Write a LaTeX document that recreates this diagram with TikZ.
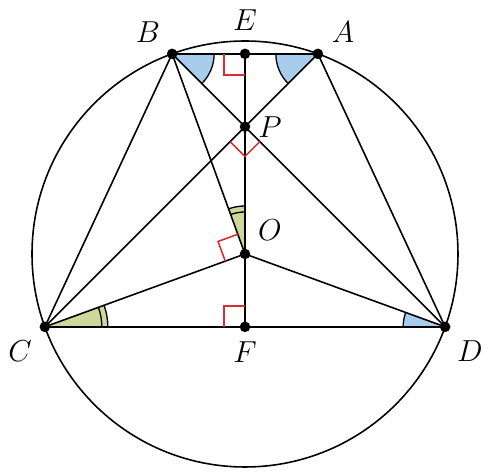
\documentclass[tikz,border=0pt]{standalone}
\usetikzlibrary{calc}
\definecolor{angblue}{RGB}{168,205,236}
\definecolor{anggreen}{RGB}{206,216,155}
\definecolor{rmark}{RGB}{218,45,45}
\tikzset{
  geo/.style={line width=0.9pt, black},
  rmk/.style={line width=0.9pt, rmark},
  arcline/.style={line width=0.75pt, black},
  dotpt/.style={circle, fill=black, inner sep=0pt, minimum size=6pt},
  lbl/.style={font=\LARGE, inner sep=0pt}
}
\begin{document}
\begin{tikzpicture}[x=0.02cm,y=0.02cm]
\useasboundingbox (-245,254) rectangle (243,-218);
\def\R{213}
\coordinate (O) at (0,0);
\coordinate (B) at (110:\R);
\coordinate (A) at (70:\R);
\coordinate (C) at (200:\R);
\coordinate (D) at (-20:\R);
\coordinate (E) at (0,200.16);
\coordinate (P) at (0,127.31);
\coordinate (F) at (0,-72.85);
% angle fills
\fill[angblue] (B) -- ++(0:42) arc[start angle=0,end angle=-45,radius=42] -- cycle;
\fill[angblue] (A) -- ++(180:42) arc[start angle=180,end angle=225,radius=42] -- cycle;
\fill[angblue] (D) -- ++(180:42) arc[start angle=180,end angle=160,radius=42] -- cycle;
\fill[anggreen] (C) -- ++(0:63) arc[start angle=0,end angle=20,radius=63] -- cycle;
\fill[anggreen] (O) -- ++(90:48) arc[start angle=90,end angle=110,radius=48] -- cycle;
% angle arcs
\draw[arcline] (B) ++(0:42) arc[start angle=0,end angle=-45,radius=42];
\draw[arcline] (A) ++(180:42) arc[start angle=180,end angle=225,radius=42];
\draw[arcline] (D) ++(180:42) arc[start angle=180,end angle=160,radius=42];
\draw[arcline] (C) ++(0:63) arc[start angle=0,end angle=20,radius=63];
\draw[arcline] (C) ++(0:57) arc[start angle=0,end angle=20,radius=57];
\draw[arcline] (O) ++(90:48) arc[start angle=90,end angle=110,radius=48];
\draw[arcline] (O) ++(90:42) arc[start angle=90,end angle=110,radius=42];
% circle and segments
\draw[geo] (O) circle[radius=\R];
\draw[geo] (B) -- (A);
\draw[geo] (C) -- (D);
\draw[geo] (B) -- (C);
\draw[geo] (A) -- (D);
\draw[geo] (A) -- (C);
\draw[geo] (B) -- (D);
\draw[geo] (B) -- (O);
\draw[geo] (C) -- (O);
\draw[geo] (D) -- (O);
\draw[geo] (E) -- (F);
% right angle marks
\draw[rmk] ($(E)+(-21,0)$) -- ++(0,-21) -- ++(21,0);
\draw[rmk] ($(F)+(-21,0)$) -- ++(0,21) -- ++(21,0);
\draw[rmk] ($(P)+(225:21)$) -- ++(315:21) -- ++(45:21);
\draw[rmk] ($(O)+(110:21)$) -- ++(200:21) -- ++(290:21);
% points
\foreach \p in {A,B,C,D,E,F,O,P} \node[dotpt] (d\p) at (\p) {};
% labels
\node[lbl] (lB) at (-97,222) {$B$};
\node[lbl] (lE) at (0,234) {$E$};
\node[lbl] (lA) at (98,222) {$A$};
\node[lbl] (lP) at (25,127) {$P$};
\node[lbl] (lO) at (25,24) {$O$};
\node[lbl] (lC) at (-225,-97) {$C$};
\node[lbl] (lF) at (0,-98) {$F$};
\node[lbl] (lD) at (225,-97) {$D$};
\end{tikzpicture}
\end{document}
